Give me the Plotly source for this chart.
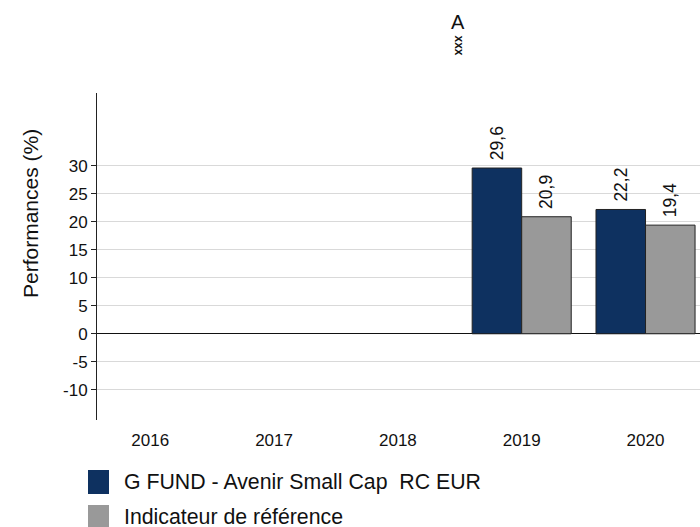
import plotly.graph_objects as go

years = ["2016", "2017", "2018", "2019", "2020"]
fund_name = "G FUND - Avenir Small Cap  RC EUR"
ref_name = "Indicateur de référence"
fund_vals = [None, None, None, 29.6, 22.2]
ref_vals = [None, None, None, 20.9, 19.4]
y_ticks = [-10, -5, 0, 5, 10, 15, 20, 25, 30]

FONT = "Liberation Sans, Arial, sans-serif"
fund_color = "#0E3160"
ref_color = "#999999"

fig = go.Figure()
for vals, name, col in [(fund_vals, fund_name, fund_color), (ref_vals, ref_name, ref_color)]:
    fig.add_trace(go.Bar(x=years, y=vals, name=name,
                         marker=dict(color=col, line=dict(color="#222222", width=1)),
                         texttemplate="\u00a0%{y:.1f}", textposition="outside", textangle=-90,
                         constraintext="none",
                         textfont=dict(size=17.5, color="#111111", family=FONT),
                         cliponaxis=False, showlegend=False))

fig.update_layout(
    width=700, height=527,
    margin=dict(l=97, r=0, t=93, b=107),
    paper_bgcolor="white", plot_bgcolor="white",
    font=dict(family=FONT, size=17, color="#111111"),
    separators=", ",
    barmode="group", bargap=0.2, bargroupgap=0,
    xaxis=dict(type="category", range=[-0.43, 4.44], showgrid=False, showline=False, ticks="",
               tickfont=dict(size=17), ticklabelstandoff=8),
    yaxis=dict(range=[-15.4, 43], tickvals=y_ticks, ticktext=[str(v) for v in y_ticks],
               showgrid=True, gridcolor="#d9d9d9", gridwidth=1,
               zeroline=True, zerolinecolor="#111111", zerolinewidth=1,
               showline=True, linecolor="#222222", linewidth=1,
               ticks="outside", ticklen=5, tickcolor="#222222", tickfont=dict(size=17)),
    showlegend=False,
)

# paper coords helpers (plot area: x 97..700, y 93..420 in page pixels)
PW, PH = 603.0, 327.0
def px(xw):
    return (xw - 97) / PW
def py(yw):
    return (420 - yw) / PH

# axis title
fig.add_annotation(text="Performances (%)", xref="paper", yref="paper", x=px(30), y=py(214),
                   textangle=-90, showarrow=False, font=dict(size=21), xanchor="center", yanchor="middle")
# chart title
fig.add_annotation(text="A", xref="paper", yref="paper", x=px(458), y=py(22),
                   showarrow=False, font=dict(size=20), xanchor="center", yanchor="middle")
fig.add_annotation(text="<b>xxx</b>", xref="paper", yref="paper", x=px(458.5), y=py(45),
                   textangle=90, showarrow=False, font=dict(size=12), xanchor="center", yanchor="middle")

# legend (custom boxes)
legend_items = [(fund_name, fund_color, 482), (ref_name, ref_color, 517)]
for name, col, yc in legend_items:
    fig.add_shape(type="rect", xref="paper", yref="paper",
                  x0=px(88), x1=px(109), y0=py(yc + 12), y1=py(yc - 12),
                  fillcolor=col, line=dict(width=0))
    fig.add_annotation(text=name, xref="paper", yref="paper", x=px(122), y=py(yc),
                       showarrow=False, xanchor="left", yanchor="middle", font=dict(size=21.3))

fig.write_html("out.html", config={"displayModeBar": False},
               post_script="document.body.style.margin='0';document.body.style.overflow='hidden';")
